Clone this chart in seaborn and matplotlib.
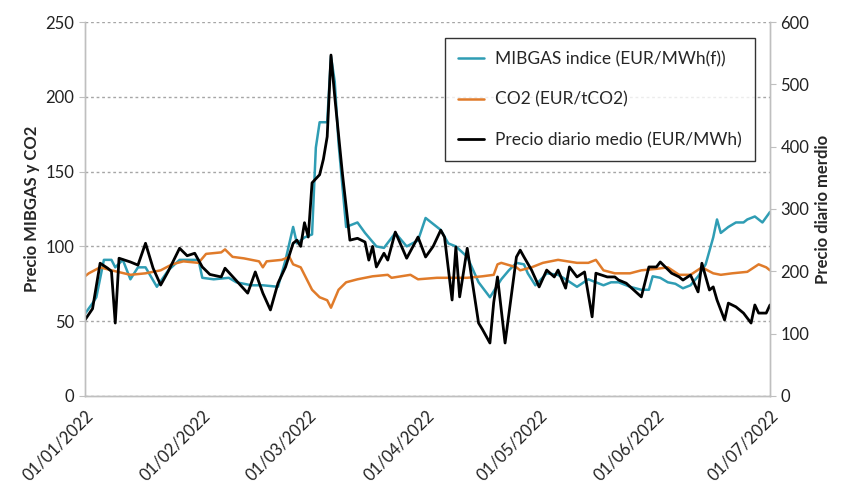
import pandas as pd
import seaborn as sns
import matplotlib.pyplot as plt
import matplotlib.dates as mdates

# days counted from 01/01/2022
mibgas_days = [0, 2, 3, 5, 7, 8, 10, 12, 14, 16, 19, 22, 25, 28, 30, 31, 34, 38, 40, 44,
               47, 51, 53, 55, 56, 58, 60, 61, 62, 64, 65, 66, 67, 69, 72, 74, 77, 79, 82, 85,
               88, 90, 94, 96, 98, 101, 104, 107, 110, 112, 114, 116, 117, 119, 122, 125, 127, 130, 133, 137,
               139, 141, 144, 147, 149, 150, 152, 154, 156, 158, 160, 162, 164, 166, 167, 168, 170, 172, 174, 175,
               177, 179, 181]
mibgas_vals = [55, 62, 66, 91, 91, 86, 91, 78, 86, 86, 73, 84, 91, 91, 91, 79, 78, 79, 76, 74,
               74, 73, 91, 113, 102, 106, 108, 166, 183, 183, 227, 210, 169, 113, 116, 109, 100, 99, 109, 100,
               104, 119, 111, 102, 100, 93, 76, 66, 78, 84, 89, 88, 82, 74, 82, 81, 78, 73, 78, 74,
               76, 76, 73, 71, 71, 80, 79, 76, 75, 72, 74, 80, 88, 106, 118, 109, 113, 116, 116, 118,
               120, 116, 123]

co2_days = [0, 1, 4, 7, 12, 16, 20, 23, 26, 30, 32, 36, 37, 39, 42, 46, 47, 48, 52, 54,
            55, 57, 60, 62, 64, 65, 67, 69, 72, 76, 80, 81, 86, 88, 93, 97, 101, 105, 108, 109,
            110, 114, 115, 118, 121, 125, 130, 133, 135, 137, 140, 144, 147, 151, 154, 157, 160, 163, 166, 168,
            171, 175, 178, 180, 181]
co2_vals = [80, 82, 86, 84, 81, 82, 84, 88, 90, 89, 95, 96, 98, 93, 92, 90, 86, 90, 91, 93,
            88, 86, 71, 66, 64, 59, 71, 76, 78, 80, 81, 79, 81, 78, 79, 79, 79, 80, 81, 88,
            89, 86, 84, 86, 89, 91, 89, 89, 91, 84, 82, 82, 84, 85, 86, 81, 81, 86, 82, 81,
            82, 83, 88, 86, 84]

precio_days = [0, 2, 4, 6, 7, 8, 9, 12, 14, 16, 18, 20, 22, 25, 27, 29, 31, 33, 36, 37,
               40, 43, 45, 47, 49, 51, 53, 55, 56, 57, 58, 59, 60, 62, 63, 64, 65, 66, 68, 70,
               72, 74, 75, 76, 77, 79, 80, 82, 85, 88, 90, 92, 94, 95, 97, 98, 99, 101, 104, 105,
               107, 108, 109, 111, 114, 115, 116, 118, 120, 122, 124, 125, 127, 128, 130, 132, 134, 135, 138, 140,
               141, 143, 145, 147, 149, 151, 152, 155, 157, 158, 160, 162, 163, 165, 166, 167, 169, 170, 172, 173,
               174, 176, 177, 178, 180, 181]
precio_vals = [122, 140, 213, 205, 200, 117, 221, 215, 210, 245, 205, 178, 200, 237, 225, 229, 207, 195, 191, 205,
               185, 165, 199, 165, 138, 181, 207, 245, 250, 240, 278, 255, 342, 355, 380, 416, 547, 480, 358, 250,
               253, 247, 218, 240, 207, 229, 218, 263, 221, 255, 223, 240, 266, 255, 154, 239, 159, 237, 117, 107,
               85, 150, 191, 85, 223, 234, 223, 202, 175, 202, 191, 202, 173, 207, 191, 199, 127, 197, 191, 191,
               186, 181, 170, 159, 207, 207, 215, 197, 191, 186, 194, 167, 213, 170, 175, 154, 122, 149, 143, 138,
               133, 117, 146, 133, 133, 146]

start = pd.Timestamp("2022-01-01")
def to_df(days, vals):
    return pd.DataFrame({"fecha": start + pd.to_timedelta(days, unit="D"), "valor": vals})

df_mibgas = to_df(mibgas_days, mibgas_vals)
df_co2 = to_df(co2_days, co2_vals)
df_precio = to_df(precio_days, precio_vals)

sns.set_style("white")
plt.rcParams["font.family"] = ["Lato", "DejaVu Sans"]

fig = plt.figure(figsize=(8.43, 4.87), dpi=100)
ax = fig.add_axes([0.1008, 0.1869, 0.8126, 0.7679])
ax2 = ax.twinx()

teal = "#2f9db4"
orange = "#e07b2a"
sns.lineplot(data=df_mibgas, x="fecha", y="valor", ax=ax, color=teal, lw=1.8,
             label="MIBGAS indice (EUR/MWh(f))", legend=False)
sns.lineplot(data=df_co2, x="fecha", y="valor", ax=ax, color=orange, lw=1.8,
             label="CO2 (EUR/tCO2)", legend=False)
sns.lineplot(data=df_precio, x="fecha", y="valor", ax=ax2, color="black", lw=2.0,
             label="Precio diario medio (EUR/MWh)", legend=False)

ax.set_xlim(start, pd.Timestamp("2022-07-01"))
ax.set_ylim(0, 250)
ax2.set_ylim(0, 600)
ax.set_yticks(range(0, 251, 50))
ax2.set_yticks(range(0, 601, 100))

ax.xaxis.set_major_locator(mdates.MonthLocator())
ax.xaxis.set_major_formatter(mdates.DateFormatter("%d/%m/%Y"))
for lbl in ax.get_xticklabels():
    lbl.set_rotation(45)
    lbl.set_ha("right")
    lbl.set_rotation_mode("anchor")

ax.grid(axis="y", color="#a6a6a6", linestyle=(0, (2, 2)), lw=1.0)
ax.set_axisbelow(True)

for a in (ax, ax2):
    a.spines["top"].set_visible(False)
    for s in ("left", "right", "bottom"):
        a.spines[s].set_color("#bfbfbf")
        a.spines[s].set_linewidth(1.0)
    a.tick_params(labelsize=12, colors="#222222", length=4, color="#bfbfbf")
ax.tick_params(axis="x", direction="out", length=5)

ax.set_xlabel("")
ax.set_ylabel("Precio MIBGAS y CO2", fontsize=12, fontweight="bold")
ax2.set_ylabel("Precio diario merdio", fontsize=12, fontweight="bold")

handles = ax.get_lines()[:2] + ax2.get_lines()[:1]
labels = [h.get_label() for h in handles]
leg = ax2.legend(handles, labels, loc="upper left", bbox_to_anchor=(0.526, 0.957),
                 borderaxespad=0, fontsize=12.5, frameon=True, fancybox=False,
                 edgecolor="black", labelspacing=1.4, handlelength=1.5,
                 handletextpad=0.6, borderpad=0.75)
leg.get_frame().set_linewidth(1.0)

fig.savefig("out.png", dpi=100)
